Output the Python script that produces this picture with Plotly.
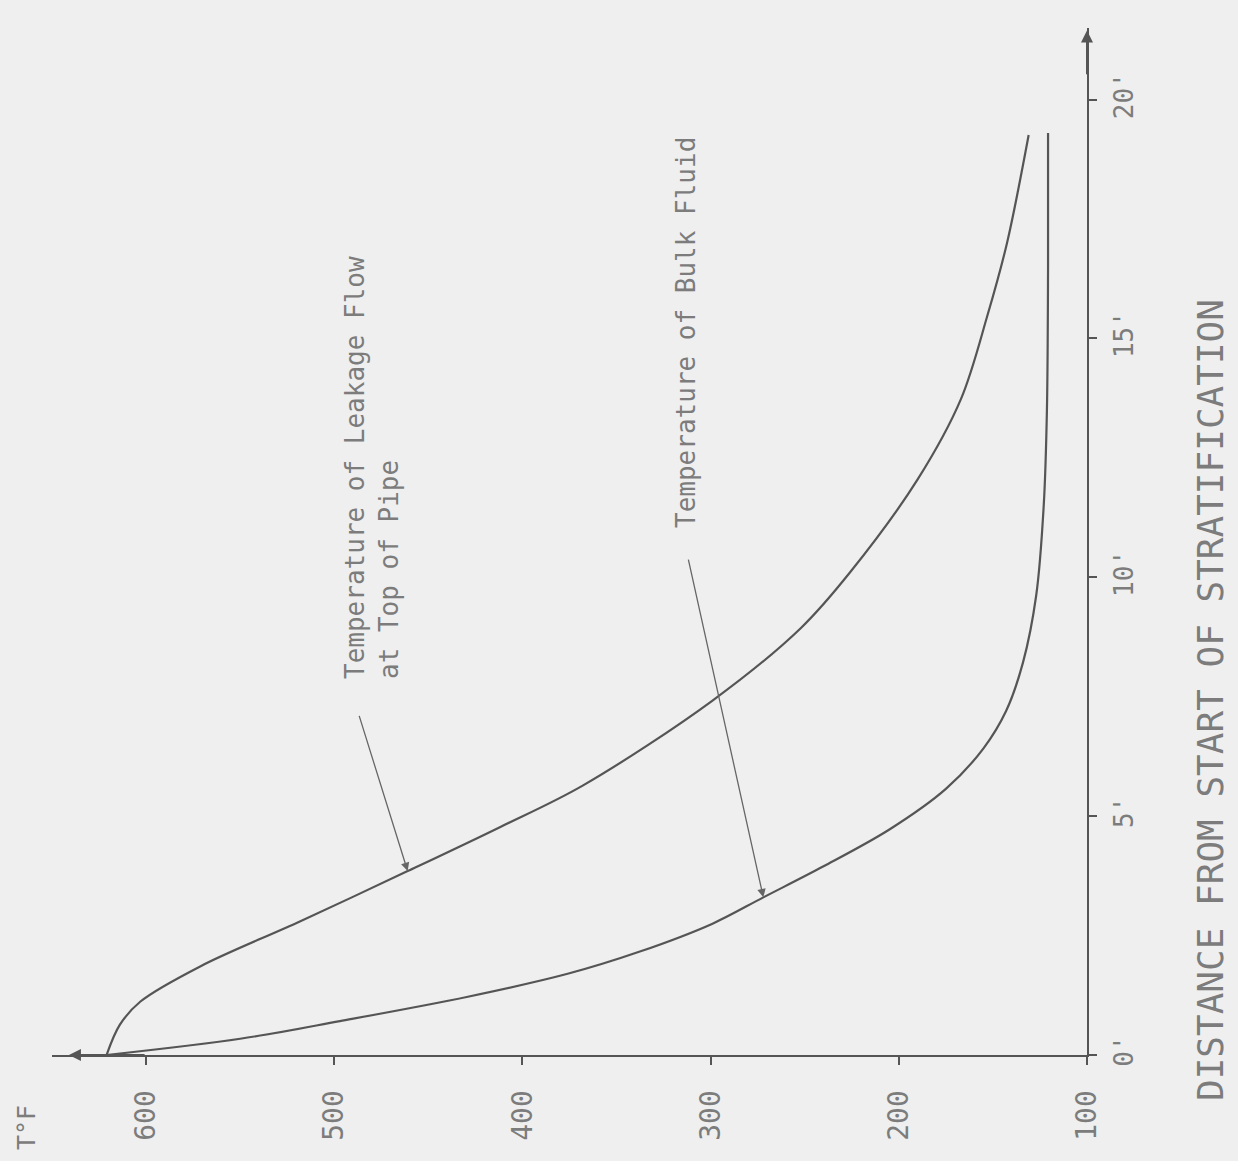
import plotly.graph_objects as go

# Temperature of leakage flow at top of pipe (deg F) vs distance (ft)
leak_dist = [0, 0.63, 1.12, 1.86, 2.80, 3.85, 4.77, 5.64, 7.42, 8.94, 10.1, 12.05, 13.73, 15.47, 17.0, 19.26]
leak_temp = [621, 614, 603, 571, 518, 461, 412, 368, 299, 252, 226, 190, 167, 153, 142.5, 131]

# Temperature of bulk fluid (deg F) vs distance (ft)
bulk_dist = [0, 0.34, 0.71, 1.22, 1.70, 2.16, 2.75, 3.3, 3.95, 4.72, 5.57, 6.42, 7.2, 8.22, 9.62, 11.5, 13.5, 16.5, 19.3]
bulk_temp = [621, 550, 497, 429, 376, 338, 299, 272, 240, 205, 175, 155, 143, 134, 127, 123, 121.3, 120.7, 120.7]

temp_ticks = [100, 200, 300, 400, 500, 600]
temp_labels = ["100", "200", "300", "400", "500", "600"]
dist_ticks = [0, 5, 10, 15, 20]
dist_labels = ["0'", "5'", "10'", "15'", "20'"]

leak_label = "Temperature of Leakage Flow<br>at Top of Pipe"
bulk_label = "Temperature of Bulk Fluid"
x_title = "DISTANCE FROM START OF STRATIFICATION"
t_title = "T°F"

W, H = 1238, 1161
ML, MR, MT, MB = 52, 151, 28, 106
PW, PH = W - ML - MR, H - MT - MB

def px(x):
    return (x - ML) / PW

def py(y):
    return (H - MB - y) / PH

FONT = "DejaVu Sans Mono"
TXT = "#7c7c7c"
LINE = "#555555"
BG = "#efefef"

fig = go.Figure()
fig.add_trace(go.Scatter(x=leak_temp, y=leak_dist, mode="lines",
                         line=dict(color=LINE, width=2.2, shape="spline", smoothing=0.95),
                         showlegend=False, hoverinfo="skip"))
fig.add_trace(go.Scatter(x=bulk_temp, y=bulk_dist, mode="lines",
                         line=dict(color=LINE, width=2.2, shape="spline", smoothing=0.95),
                         showlegend=False, hoverinfo="skip"))

ann = []
# curve labels
ann.append(dict(text=leak_label, x=px(372), y=py(468), xref="paper", yref="paper",
                xanchor="center", yanchor="middle",
                textangle=-90, align="left", showarrow=False,
                font=dict(family=FONT, size=26, color=TXT)))
ann.append(dict(text=bulk_label, x=px(686), y=py(333), xref="paper", yref="paper",
                xanchor="center", yanchor="middle",
                textangle=-90, showarrow=False,
                font=dict(family=FONT, size=26, color=TXT)))
# pointer arrows
ann.append(dict(text="", x=leak_temp[5], y=leak_dist[5], ax=487, ay=7.13,
                xref="x", yref="y", axref="x", ayref="y", showarrow=True,
                arrowhead=2, arrowsize=1.3, arrowwidth=1.3, arrowcolor="#666"))
ann.append(dict(text="", x=bulk_temp[7], y=bulk_dist[7], ax=312, ay=10.4,
                xref="x", yref="y", axref="x", ayref="y", showarrow=True,
                arrowhead=2, arrowsize=1.3, arrowwidth=1.3, arrowcolor="#666"))
# axis arrowheads
ann.append(dict(text="", x=641, y=0, ax=600, ay=0, xref="x", yref="y", axref="x", ayref="y",
                showarrow=True, arrowhead=2, arrowsize=1.2, arrowwidth=2, arrowcolor="#555"))
ann.append(dict(text="", x=100, y=21.45, ax=100, ay=20.5, xref="x", yref="y", axref="x", ayref="y",
                showarrow=True, arrowhead=2, arrowsize=1.2, arrowwidth=2, arrowcolor="#555"))
# axis titles
ann.append(dict(text=x_title, x=px(1210), y=py(700), xref="paper", yref="paper",
                xanchor="center", yanchor="middle",
                textangle=-90, showarrow=False,
                font=dict(family=FONT, size=36, color=TXT)))
ann.append(dict(text=t_title, x=px(26), y=py(1128), xref="paper", yref="paper",
                xanchor="center", yanchor="middle",
                textangle=-90, showarrow=False,
                font=dict(family=FONT, size=25, color=TXT)))

fig.update_layout(
    width=W, height=H,
    margin=dict(l=ML, r=MR, t=MT, b=MB),
    paper_bgcolor=BG, plot_bgcolor=BG,
    annotations=ann,
    xaxis=dict(range=[650, 100], showgrid=False, zeroline=False,
               showline=True, linecolor="#555", linewidth=2,
               ticks="outside", ticklen=8, tickwidth=1.5, tickcolor="#555",
               tickvals=temp_ticks, ticktext=temp_labels, tickangle=-90,
               ticklabelstandoff=14,
               tickfont=dict(family=FONT, size=28, color=TXT)),
    yaxis=dict(range=[0, 21.5], side="right", showgrid=False, zeroline=False,
               showline=True, linecolor="#555", linewidth=2,
               ticks="outside", ticklen=8, tickwidth=1.5, tickcolor="#555",
               tickvals=dist_ticks, ticktext=dist_labels, tickangle=-90,
               ticklabelstandoff=5,
               tickfont=dict(family=FONT, size=26, color=TXT)),
)

fig.write_html("out.html", config={"displayModeBar": False},
               post_script="document.body.style.margin='0';document.body.style.background='%s';" % BG)
